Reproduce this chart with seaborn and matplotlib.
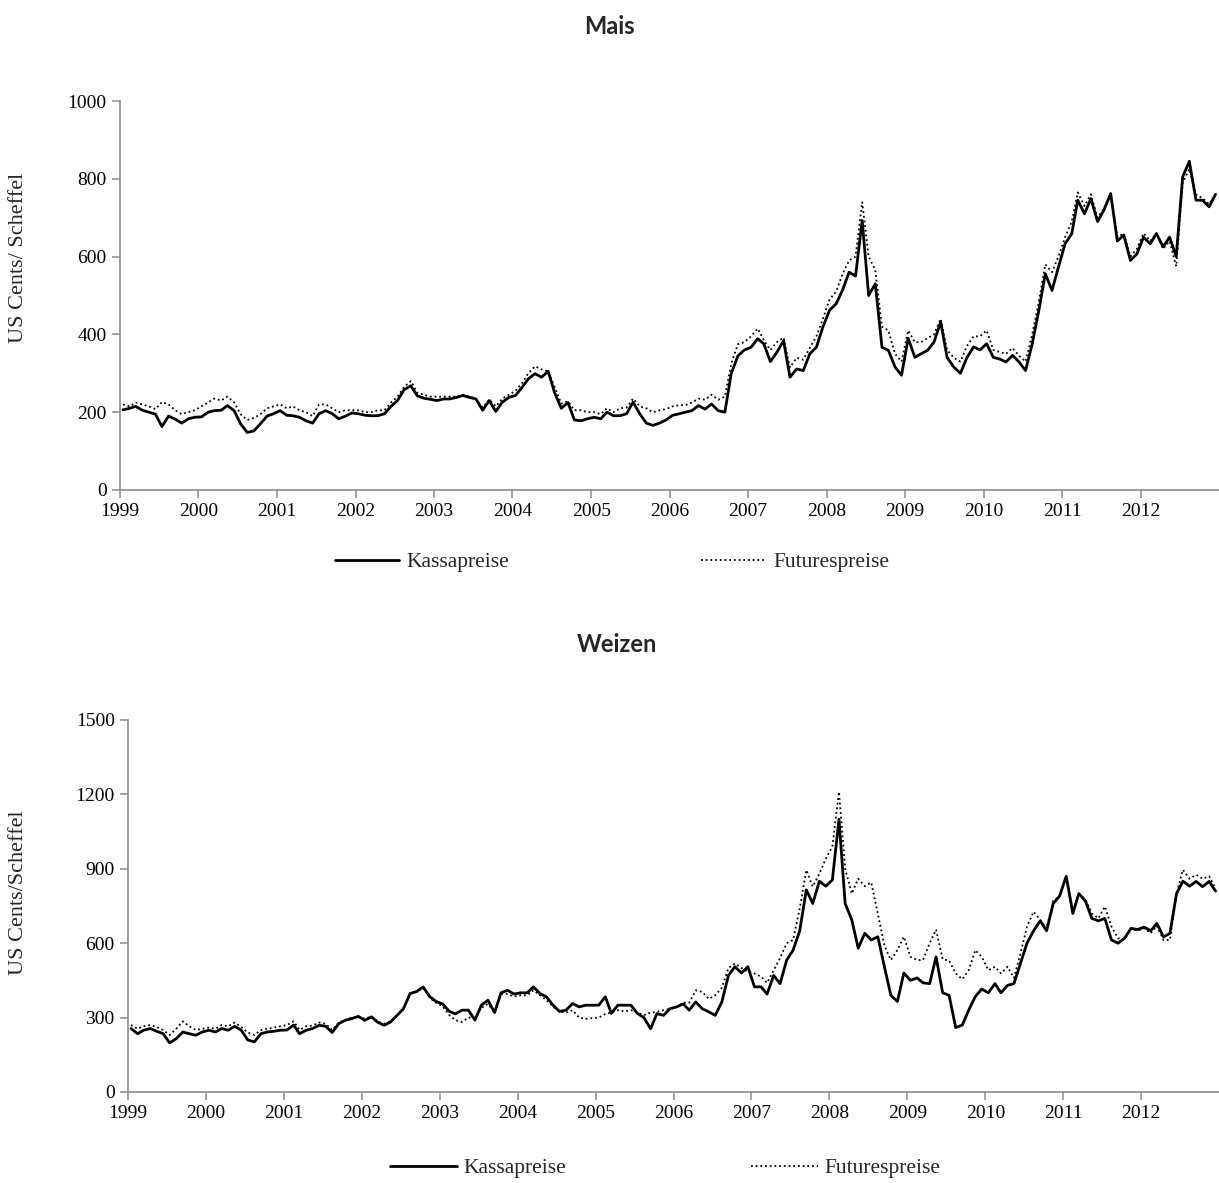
import numpy as np
import pandas as pd
import matplotlib
matplotlib.use("Agg")
import matplotlib.pyplot as plt
import matplotlib.dates as mdates
from matplotlib.lines import Line2D
import seaborn as sns

# Monthly prices (US cents / bushel), Jan 1999 - Dec 2012
mais_kassa = [
    206, 210, 215, 205, 200, 195, 163, 190, 182, 172, 183, 187,
    188, 200, 204, 205, 217, 204, 170, 148, 152, 170, 190, 196,
    204, 192, 191, 187, 178, 172, 196, 204, 196, 183, 190, 198,
    196, 192, 191, 191, 196, 215, 230, 258, 268, 242, 236, 233,
    230, 234, 234, 238, 243, 238, 234, 205, 230, 202, 226, 238,
    243, 264, 286, 299, 290, 305, 250, 210, 225, 180, 178, 183,
    187, 183, 200, 191, 191, 196, 226, 196, 172, 166, 172, 180,
    192, 196, 200, 204, 217, 208, 221, 204, 200, 300, 345, 360,
    367, 389, 376, 330, 354, 384, 290, 311, 307, 350, 367, 419,
    462, 479, 513, 560, 550, 693, 500, 530, 367, 359, 316, 295,
    390, 341, 350, 359, 380, 432, 341, 316, 300, 340, 368, 360,
    376, 341, 337, 329, 346, 329, 307, 376, 462, 556, 513, 573,
    633, 659, 745, 710, 749, 690, 720, 762, 640, 655, 590, 607,
    650, 633, 659, 625, 650, 600, 805, 845, 745, 745, 728, 760,
]
mais_futures = [
    220, 215, 225, 220, 215, 208, 226, 220, 205, 195, 200, 205,
    215, 225, 235, 230, 240, 225, 195, 180, 185, 195, 210, 215,
    220, 210, 215, 205, 200, 190, 220, 220, 210, 200, 205, 205,
    205, 200, 200, 205, 205, 225, 240, 265, 280, 250, 245, 240,
    240, 240, 240, 240, 245, 240, 235, 212, 232, 215, 235, 245,
    255, 275, 300, 318, 310, 305, 265, 222, 228, 205, 205, 200,
    200, 195, 210, 200, 210, 212, 235, 215, 210, 200, 205, 208,
    215, 218, 218, 225, 235, 232, 245, 232, 240, 325, 375, 380,
    395, 415, 385, 360, 380, 392, 315, 340, 335, 365, 395, 440,
    490, 510, 555, 590, 600, 740, 600, 565, 420, 410, 350, 330,
    410, 380, 380, 390, 400, 440, 360, 340, 330, 370, 395, 395,
    410, 360, 355, 350, 365, 345, 330, 400, 485, 580, 560, 600,
    650, 690, 765, 730, 760, 700, 725, 760, 650, 660, 600, 620,
    660, 640, 660, 620, 640, 575, 790, 825, 760, 750, 735, 760,
]
weizen_kassa = [
    256, 235, 249, 256, 245, 235, 198, 215, 242, 235, 229, 242,
    249, 242, 256, 249, 265, 249, 210, 202, 235, 242, 245, 249,
    250, 270, 235, 249, 256, 269, 265, 240, 276, 289, 296, 305,
    289, 303, 282, 269, 282, 309, 336, 397, 405, 424, 385, 365,
    355, 325, 315, 330, 330, 290, 350, 370, 320, 400, 410, 395,
    400, 400, 424, 397, 384, 350, 325, 330, 357, 343, 350, 350,
    350, 384, 317, 350, 350, 350, 317, 300, 255, 316, 309, 336,
    343, 355, 330, 363, 336, 323, 309, 363, 470, 505, 480, 505,
    424, 424, 395, 470, 437, 532, 572, 650, 815, 760, 850, 830,
    855, 1100, 760, 694, 580, 640, 613, 626, 505, 390, 365, 480,
    450, 460, 440, 437, 545, 400, 390, 260, 270, 330, 385, 415,
    400, 437, 400, 430, 437, 520, 600, 650, 690, 650, 760, 790,
    870, 720, 800, 770, 700, 690, 700, 613, 600, 620, 660, 655,
    665, 650, 680, 625, 640, 800, 850, 830, 849, 828, 849, 810,
]
weizen_futures = [
    270, 255, 265, 270, 262, 250, 230, 255, 285, 265, 250, 255,
    260, 255, 270, 265, 280, 262, 240, 230, 250, 255, 260, 265,
    270, 285, 250, 265, 268, 280, 275, 250, 280, 290, 300, 305,
    295, 305, 285, 275, 285, 310, 335, 395, 405, 420, 380, 360,
    345, 310, 290, 282, 300, 300, 340, 355, 320, 395, 395, 385,
    390, 390, 410, 390, 370, 345, 325, 320, 330, 300, 295, 298,
    300, 315, 320, 330, 325, 330, 320, 310, 320, 323, 330, 335,
    343, 360, 360, 410, 404, 375, 390, 420, 500, 518, 500, 485,
    478, 465, 440, 491, 540, 600, 613, 740, 895, 828, 880, 940,
    990, 1210, 900, 800, 860, 830, 845, 720, 590, 532, 572, 626,
    545, 532, 532, 600, 655, 535, 530, 478, 455, 491, 572, 545,
    491, 505, 478, 505, 460, 560, 667, 727, 694, 660, 770, 790,
    870, 730, 800, 775, 720, 700, 748, 667, 620, 615, 660, 650,
    660, 640, 670, 613, 613, 800, 896, 860, 876, 860, 870, 820,
]
datum = pd.date_range("1999-01-01", periods=168, freq="MS") + pd.Timedelta(days=14)
jahre = pd.date_range("1999-01-01", "2012-01-01", freq="YS")

sns.set_style("ticks")
plt.rcParams["font.family"] = ["Liberation Serif", "DejaVu Serif"]

fig = plt.figure(figsize=(12.19, 11.83), dpi=100)
ax1 = fig.add_axes([120 / 1219, 1 - 490 / 1183, 1099 / 1219, 389 / 1183])
ax2 = fig.add_axes([128 / 1219, 1 - 1092 / 1183, 1091 / 1219, 372 / 1183])

spine_col = "#8c8c8c"
dotted = (0, (1, 1.6))


def draw(ax, kassa, futures, ymax, step):
    sns.lineplot(x=datum, y=kassa, ax=ax, color="black", lw=2.0, legend=False)
    sns.lineplot(x=datum, y=futures, ax=ax, color="black", lw=1.3, ls=dotted, legend=False)
    ax.set_xlim(pd.Timestamp("1999-01-01"), pd.Timestamp("2012-12-31"))
    ax.set_ylim(0, ymax)
    ax.set_yticks(np.arange(0, ymax + 1, step))
    ax.set_xticks(jahre)
    ax.xaxis.set_major_formatter(mdates.DateFormatter("%Y"))
    ax.set_xlabel("")
    ax.set_ylabel("")
    for s in ["top", "right"]:
        ax.spines[s].set_visible(False)
    for s in ["left", "bottom"]:
        ax.spines[s].set_color(spine_col)
        ax.spines[s].set_linewidth(1.2)
    ax.tick_params(direction="out", length=6, width=1.1, color=spine_col,
                   labelcolor="black", labelsize=14)


draw(ax1, mais_kassa, mais_futures, 1000, 200)
draw(ax2, weizen_kassa, weizen_futures, 1500, 300)

# titles
title_font = dict(family=["Lato", "DejaVu Sans"], weight="bold", fontsize=17)
fig.text(609 / 1219, 1 - 27 / 1183, "Mais", ha="center", va="center", **title_font)
fig.text(617 / 1219, 1 - 645 / 1183, "Weizen", ha="center", va="center", **title_font)

# y labels
fig.text(19 / 1219, 1 - 258 / 1183, "US Cents/ Scheffel", rotation=90,
         ha="center", va="center", fontsize=16)
fig.text(19 / 1219, 1 - 893 / 1183, "US Cents/Scheffel", rotation=90,
         ha="center", va="center", fontsize=16)

# legends
h_k = Line2D([], [], color="black", lw=2.0)
h_f = Line2D([], [], color="black", lw=1.3, ls=dotted)
fig.legend([h_k, h_f], ["Kassapreise", "Futurespreise"], loc="center",
           bbox_to_anchor=(612 / 1219, 1 - 562 / 1183), ncol=2, frameon=False,
           fontsize=15.5, handlelength=3.0, handletextpad=0.35, columnspacing=8.9)
fig.legend([h_k, h_f], ["Kassapreise", "Futurespreise"], loc="center",
           bbox_to_anchor=(665 / 1219, 1 - 1168 / 1183), ncol=2, frameon=False,
           fontsize=15.5, handlelength=3.1, handletextpad=0.3, columnspacing=8.6)

fig.savefig("out.png", dpi=100, facecolor="white")
